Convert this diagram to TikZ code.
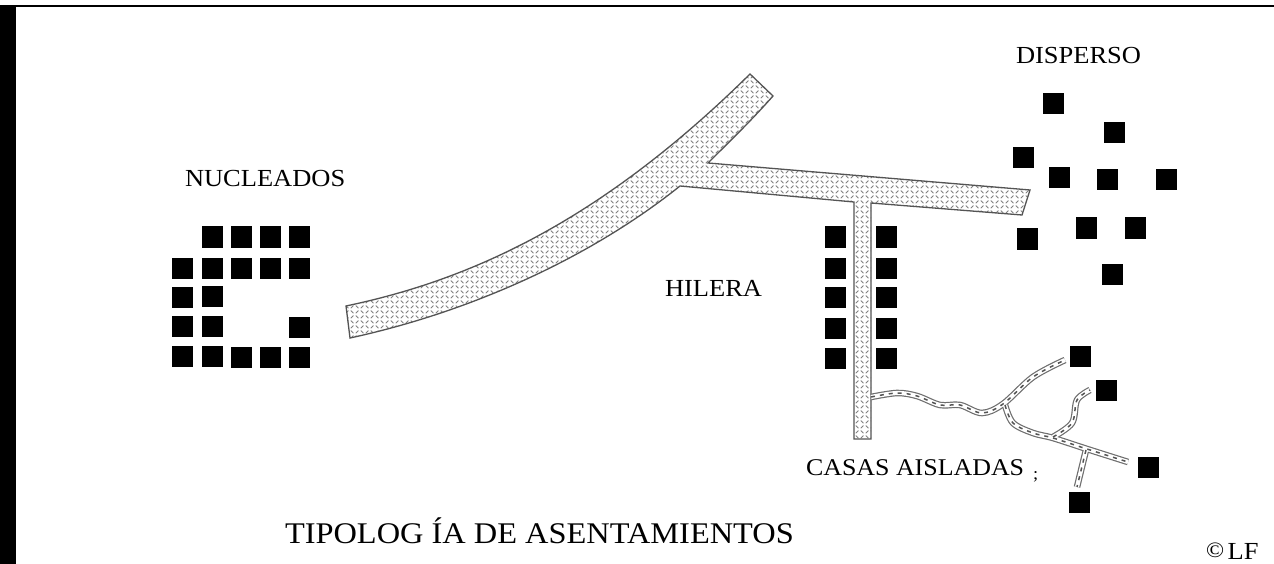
\documentclass[tikz,border=0pt]{standalone}
\usepackage{fontspec}
\setmainfont{Liberation Serif}[FakeStretch=1.08]
\usetikzlibrary{patterns}
\pgfdeclarepatternformonly{plateweave}{\pgfqpoint{-1pt}{-1pt}}{\pgfqpoint{11pt}{11pt}}{\pgfqpoint{10pt}{10pt}}{
  \pgfsetlinewidth{0.95pt}
  \pgfsetroundcap
  \pgfpathmoveto{\pgfqpoint{1pt}{3.2pt}}\pgfpathlineto{\pgfqpoint{3.2pt}{1pt}}
  \pgfpathmoveto{\pgfqpoint{6pt}{8.2pt}}\pgfpathlineto{\pgfqpoint{8.2pt}{6pt}}
  \pgfpathmoveto{\pgfqpoint{6pt}{1pt}}\pgfpathlineto{\pgfqpoint{8.2pt}{3.2pt}}
  \pgfpathmoveto{\pgfqpoint{1pt}{6pt}}\pgfpathlineto{\pgfqpoint{3.2pt}{8.2pt}}
  \pgfusepath{stroke}
}
\definecolor{roadedge}{gray}{0.33}
\definecolor{roaddash}{gray}{0.5}
\tikzset{
  house/.style={fill=black},
  label text/.style={anchor=base west,inner sep=0pt,outer sep=0pt,font=\fontsize{24.5}{24.5}\selectfont},
  road pattern/.style={pattern=plateweave,pattern color=roaddash},
  road edge/.style={draw=roadedge,line width=1.3pt,line join=miter},
  lane outer/.style={draw=roadedge!85,line width=6.6pt,line cap=butt,line join=round},
  lane inner/.style={draw=white,line width=4.2pt,line cap=butt,line join=round},
  lane dash/.style={draw=roadedge,line width=1.5pt,dash pattern=on 4pt off 5pt},
}
\newcommand{\hut}[2]{\fill[house] (#1-10.5,#2-10.5) rectangle (#1+10.5,#2+10.5);}
\def\mainroad{(346,306) .. controls (470,280) and (600,222) .. (750,74) -- (773,96)
  .. controls (750,122) and (730,141) .. (708,163) -- (1030,190) -- (1022,215)
  -- (871,203) -- (871,439) -- (854,439) -- (854,202) -- (680,186)
  .. controls (590,258) and (470,312) .. (350,338) -- cycle}
\def\laneA{plot[smooth,tension=0.55] coordinates {(871,397) (897,393) (917,396) (940,405) (960,405) (982,413) (1003,404) (1033,377) (1065,360)}}
\def\laneB{plot[smooth,tension=0.55] coordinates {(1005,405) (1013,423) (1033,433) (1053,438) (1087,449) (1128,462)}}
\def\laneC{plot[smooth,tension=0.55] coordinates {(1053,437) (1072,423) (1077,400) (1090,390)}}
\def\laneD{(1086,450) -- (1077,487)}
\begin{document}
\begin{tikzpicture}[x=1pt,y=-1pt]
\useasboundingbox (0,0) rectangle (1274,564);
\fill[white] (0,0) rectangle (1274,564);
\fill[black] (0,5) rectangle (1274,7);
\fill[black] (0,5) rectangle (16,564);
% main road
\fill[white] \mainroad;
\fill[road pattern] \mainroad;
\path[road edge] \mainroad;
% thin lanes
\foreach \lane in {\laneA,\laneB,\laneC,\laneD} {\path[lane outer] \lane;}
\foreach \lane in {\laneA,\laneB,\laneC,\laneD} {\path[lane inner] \lane;}
\foreach \lane in {\laneA,\laneB,\laneC,\laneD} {\path[lane dash] \lane;}
% nucleados
\foreach \x/\y in {212/237,241/237,270/237,299/237,
  182/268,212/268,241/268,270/268,299/268,
  182/297,212/296,
  182/326,212/326,299/327,
  182/356,212/356,241/357,270/357,299/357} {\hut{\x}{\y}}
% hilera
\foreach \y in {237,268,297,328,358} {\hut{835}{\y}\hut{886}{\y}}
% disperso
\foreach \x/\y in {1053/104,1114/133,1023/158,1059/178,1107/180,1166/180,
  1086/228,1135/228,1027/239,1112/274} {\hut{\x}{\y}}
% aisladas
\foreach \x/\y in {1080/356,1106/390,1148/467,1079/502} {\hut{\x}{\y}}
% texts
\node[label text] (nucleados) at (185,187) {NUCLEADOS};
\node[label text] (hilera) at (665,296) {HILERA};
\node[label text] (disperso) at (1016,64) {DISPERSO};
\node[label text,font=\fontsize{24}{24}\selectfont] (casas) at (806,475) {CASAS AISLADAS};
\node[label text,font=\fontsize{30}{30}\selectfont] (titulo) at (285,543) {TIPOLOG ÍA DE ASENTAMIENTOS};
\node[label text] (autor) at (1206,559) {\raisebox{2pt}{\fontsize{22}{22}\selectfont ©}\hspace{-3pt} LF};
\node[label text,font=\fontsize{17}{17}\selectfont] (marca) at (1033,479) {;};
\end{tikzpicture}
\end{document}
